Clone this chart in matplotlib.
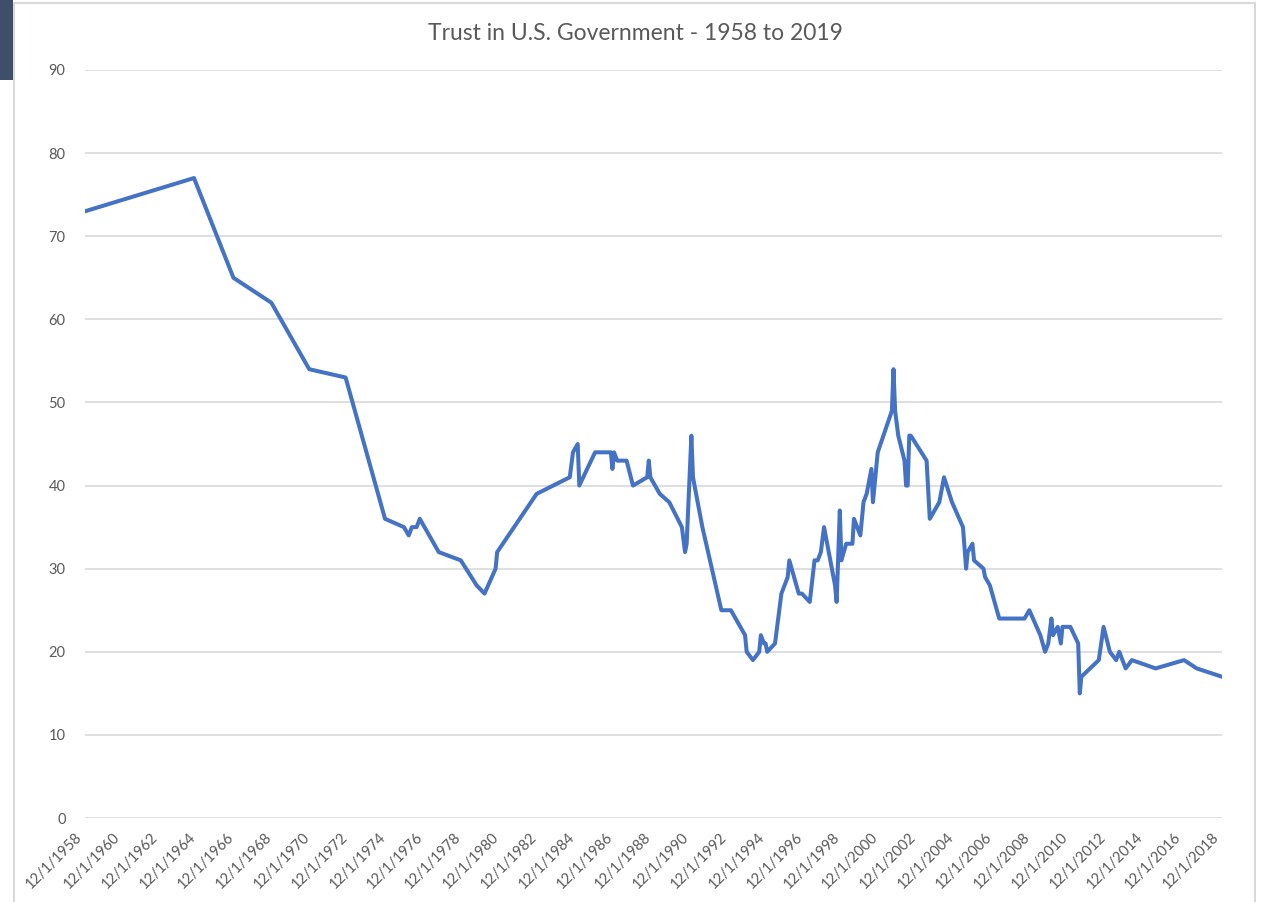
"""
Trust in U.S. Government, 1958 to 2019 - Excel-style line chart.
Writes out.png
"""

import pandas as pd
import matplotlib
matplotlib.use("Agg")
import matplotlib.pyplot as plt
from matplotlib.patches import Rectangle
from matplotlib.transforms import ScaledTranslation

TITLE = "Trust in U.S. Government - 1958 to 2019"

# survey dates (year-month) and % who trust the government
survey_dates = [
    "1958-12", "1964-09", "1966-10", "1968-10", "1970-10", "1972-09", "1974-10",
    "1975-10", "1976-01", "1976-03", "1976-06", "1976-08", "1977-08", "1978-10",
    "1979-08", "1980-01", "1980-08", "1980-09", "1982-10", "1984-07", "1984-09",
    "1984-12", "1985-01", "1985-06", "1985-11", "1986-08", "1986-09", "1986-10",
    "1986-11", "1987-01", "1987-07", "1987-11", "1988-08", "1988-09", "1988-10",
    "1989-04", "1989-10", "1990-06", "1990-08", "1990-09", "1990-12", "1991-01",
    "1991-07", "1992-07", "1993-01", "1993-10", "1993-11", "1994-03", "1994-07",
    "1994-08", "1994-10", "1994-11", "1994-12", "1995-05", "1995-09", "1996-01",
    "1996-02", "1996-08", "1996-10", "1997-03", "1997-06", "1997-08", "1997-10",
    "1997-12", "1998-07", "1998-08", "1998-10", "1998-11", "1999-02", "1999-06",
    "1999-07", "1999-11", "2000-01", "2000-03", "2000-06", "2000-07", "2000-10",
    "2001-07", "2001-08", "2001-09", "2001-11", "2002-03", "2002-04", "2002-05",
    "2002-06", "2002-07", "2003-05", "2003-07", "2004-01", "2004-04", "2004-09",
    "2005-04", "2005-06", "2005-07", "2005-10", "2005-11", "2006-05", "2006-06",
    "2006-09", "2007-03", "2008-07", "2008-10", "2009-05", "2009-08", "2009-10",
    "2009-12", "2010-01", "2010-04", "2010-06", "2010-07", "2010-12", "2011-05",
    "2011-06", "2011-07", "2012-06", "2012-09", "2013-01", "2013-05", "2013-07",
    "2013-11", "2014-03", "2015-06", "2016-12", "2017-08", "2018-12",
]
trust_pct = [
    73, 77, 65, 62, 54, 53, 36,
    35, 34, 35, 35, 36, 32, 31,
    28, 27, 30, 32, 39, 41, 44,
    45, 40, 42, 44, 44, 44, 42,
    44, 43, 43, 40, 41, 43, 41,
    39, 38, 35, 32, 33, 46, 41,
    35, 25, 25, 22, 20, 19, 20,
    22, 21, 21, 20, 21, 27, 29,
    31, 27, 27, 26, 31, 31, 32,
    35, 28, 26, 37, 31, 33, 33,
    36, 34, 38, 39, 42, 38, 44,
    49, 54, 49, 46, 43, 40, 40,
    46, 46, 43, 36, 38, 41, 38,
    35, 30, 32, 33, 31, 30, 29,
    28, 24, 24, 25, 22, 20, 21,
    24, 22, 23, 21, 23, 23, 21,
    15, 17, 19, 23, 20, 19, 20,
    18, 19, 18, 19, 18, 17,
]

tick_years = list(range(1958, 2019, 2))
y_ticks = list(range(0, 91, 10))

LINE_BLUE = "#4472C4"
TEXT_GREY = "#595959"
GRID_GREY = "#D9D9D9"


def main():
    dates = pd.to_datetime(survey_dates, format="%Y-%m")
    ticks = pd.to_datetime([f"{y}-12-01" for y in tick_years])

    plt.rcParams["font.family"] = ["Lato", "DejaVu Sans"]

    fig = plt.figure(figsize=(12.63, 9.02), dpi=100)

    # chart frame and the dark tab at the top left (screenshot artefacts)
    fig.add_artist(Rectangle((0.011, -0.01), 0.983, 1.007, transform=fig.transFigure,
                             facecolor="none", edgecolor=GRID_GREY, linewidth=1.5))
    fig.add_artist(Rectangle((0, 0.911), 0.0103, 0.089, transform=fig.transFigure,
                             facecolor="#3E4F6A", edgecolor="none"))

    ax = fig.add_axes([0.0673, 0.0931, 0.9002, 0.8293])
    ax.plot(dates, trust_pct, color=LINE_BLUE, linewidth=2.9, solid_joinstyle="round")

    ax.set_xlim(ticks[0], ticks[-1])
    ax.set_ylim(0, 90)
    ax.set_yticks(y_ticks)
    ax.set_xticks(ticks)
    ax.set_xticklabels([f"{d.month}/{d.day}/{d.year}" for d in ticks],
                       rotation=45, ha="right", va="top", rotation_mode="anchor")

    ax.grid(axis="y", color=GRID_GREY, linewidth=1.2)
    ax.set_axisbelow(True)
    for side in ["top", "right", "left", "bottom"]:
        ax.spines[side].set_visible(False)
    ax.tick_params(axis="both", length=0, colors=TEXT_GREY, labelsize=10.5)
    ax.tick_params(axis="y", pad=14)
    ax.tick_params(axis="x", pad=10)

    # Excel puts the end of each rotated date a little left of its tick
    shift = ScaledTranslation(-10 / 100, 2 / 100, fig.dpi_scale_trans)
    for lab in ax.get_xticklabels():
        lab.set_transform(lab.get_transform() + shift)

    fig.text(0.503, 0.963, TITLE, ha="center", va="center",
             fontsize=16.5, color=TEXT_GREY)

    fig.savefig("out.png", dpi=100, facecolor="white")
    plt.close(fig)


if __name__ == "__main__":
    main()
